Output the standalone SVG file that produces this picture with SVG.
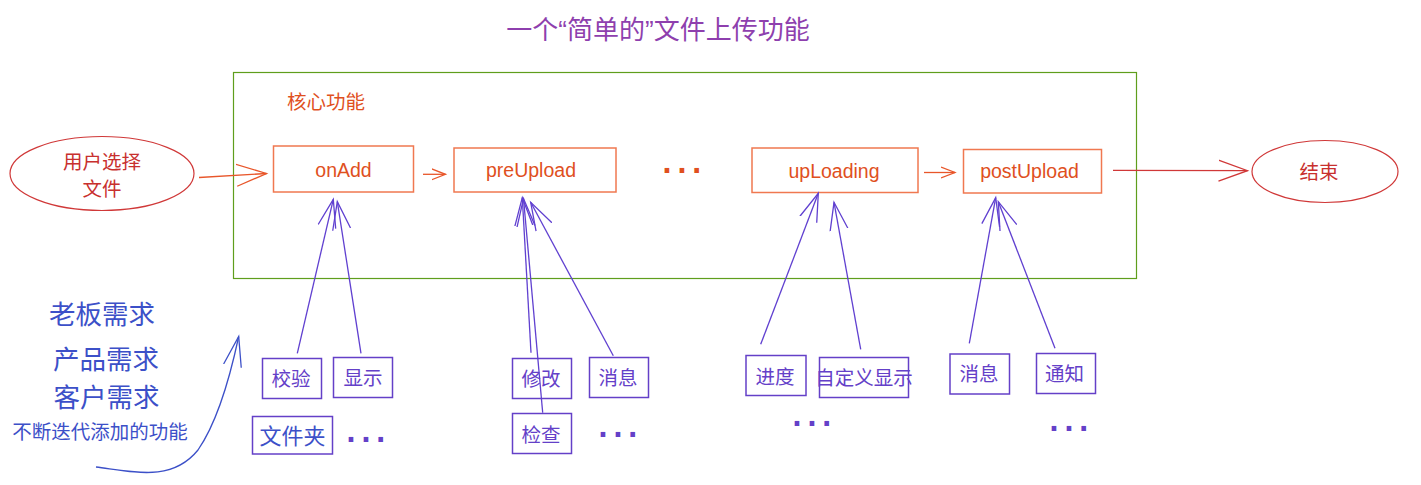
<svg xmlns="http://www.w3.org/2000/svg" width="1421" height="485" viewBox="0 0 1421 485">
<style>
text{font-family:"Liberation Sans","Noto Sans CJK SC",sans-serif;text-anchor:middle}
.cn{font-family:"Noto Sans CJK SC",sans-serif}
.or{fill:#e0501e}
.pu{fill:#6440c8}
.bl{fill:#3c50c8}
.obox{fill:none;stroke:#f07850;stroke-width:1.5}
.pbox{fill:none;stroke:#6440c8;stroke-width:1.5}
.pl{fill:none;stroke:#6040d0;stroke-width:1.3}
.ol{fill:none;stroke:#e8562a;stroke-width:1.3}
.dots{font-family:"DejaVu Sans",sans-serif;font-weight:bold;font-size:26px;letter-spacing:5px;text-anchor:start}
</style>
<defs>
<marker id="hp" markerUnits="userSpaceOnUse" markerWidth="40" markerHeight="30" refX="28" refY="10" orient="auto" viewBox="0 0 40 20"><path d="M0,1 L28,10 L0,19" fill="none" stroke="#6040d0" stroke-width="1.3"/></marker>
<marker id="ho" markerUnits="userSpaceOnUse" markerWidth="16" markerHeight="14" refX="14" refY="6" orient="auto" viewBox="0 0 16 12"><path d="M0,0.5 L14,6 L0,11.5" fill="none" stroke="#e8562a" stroke-width="1.3"/></marker>
<marker id="hb" markerUnits="userSpaceOnUse" markerWidth="34" markerHeight="26" refX="30" refY="11" orient="auto" viewBox="0 0 34 22"><path d="M0,0 L30,11 L0,22" fill="none" stroke="#e8562a" stroke-width="1.3"/></marker>
<marker id="hr" markerUnits="userSpaceOnUse" markerWidth="34" markerHeight="26" refX="29" refY="11" orient="auto" viewBox="0 0 34 22"><path d="M0,0.5 L29,11 L0,21.5" fill="none" stroke="#d03838" stroke-width="1.3"/></marker>
<marker id="hbl" markerUnits="userSpaceOnUse" markerWidth="34" markerHeight="26" refX="30" refY="11" orient="auto" viewBox="0 0 34 22"><path d="M0,2 L30,11 L0,20" fill="none" stroke="#3c50c8" stroke-width="1.3"/></marker>
</defs>

<g id="title"><text x="658" y="39" font-size="26" fill="#8e3fae">一个“简单的”文件上传功能</text></g>

<g id="core"><rect x="233.5" y="72.5" width="903" height="206" fill="none" stroke="#5f9e1c" stroke-width="1.2"/>
<text class="cn or" x="326" y="108.5" font-size="19.5">核心功能</text></g>

<g id="start"><ellipse cx="102" cy="173.5" rx="92" ry="37" fill="none" stroke="#d03838" stroke-width="1.2"/>
<text class="cn" x="102" y="168.5" font-size="19.5" fill="#c8302e">用户选择</text>
<text class="cn" x="102" y="196" font-size="19.5" fill="#c8302e">文件</text></g>

<g id="end"><ellipse cx="1325" cy="171.5" rx="73" ry="31" fill="none" stroke="#d03838" stroke-width="1.2"/>
<text class="cn" x="1319" y="178.5" font-size="19.5" fill="#c8302e">结束</text></g>

<g id="onAdd"><rect class="obox" x="273.5" y="146" width="140" height="46"/><text class="or" x="343.5" y="177" font-size="19.5">onAdd</text></g>
<g id="preUpload"><rect class="obox" x="454" y="148" width="162" height="44" stroke="#f29a7a"/><text class="or" x="531" y="177" font-size="19.5">preUpload</text></g>
<g id="ellipsis1"><text class="dots or" x="662" y="173">...</text></g>
<g id="upLoading"><rect class="obox" x="752" y="148" width="166" height="44.5"/><text class="or" x="834" y="178" font-size="19.5">upLoading</text></g>
<g id="postUpload"><rect class="obox" x="963.5" y="149.5" width="138" height="43.5" stroke="#e0501e"/><text class="or" x="1029.5" y="177.5" font-size="19.5">postUpload</text></g>

<g id="reqs"><text class="cn bl" x="102" y="324" font-size="26.5">老板需求</text>
<text class="cn bl" x="106" y="369" font-size="26.5">产品需求</text>
<text class="cn bl" x="106.5" y="406.5" font-size="26.5">客户需求</text>
<text class="cn bl" x="100" y="438.5" font-size="19.5">不断迭代添加的功能</text></g>

<g id="jiaoyan"><rect class="pbox" x="262.5" y="358.5" width="59" height="40"/><text class="cn pu" x="291" y="385.5" font-size="19.5">校验</text></g>
<g id="xianshi"><rect class="pbox" x="333.5" y="357.5" width="59" height="40"/><text class="cn pu" x="363" y="385" font-size="19.5">显示</text></g>
<g id="wenjianjia"><rect class="pbox" x="252.5" y="416.5" width="80" height="37.5" stroke="#3c50c8"/><text class="cn bl" x="292.5" y="444" font-size="22">文件夹</text></g>
<g id="ellipsis2"><text class="dots pu" x="346" y="442">...</text></g>

<g id="xiugai"><rect class="pbox" x="512.5" y="358.5" width="59" height="40"/><text class="cn pu" x="541" y="386" font-size="19.5">修改</text></g>
<g id="xiaoxi1"><rect class="pbox" x="589.5" y="357.5" width="59" height="40"/><text class="cn pu" x="618" y="385" font-size="19.5">消息</text></g>
<g id="jiancha"><rect class="pbox" x="512.5" y="413.5" width="59" height="40"/><text class="cn pu" x="541" y="441.5" font-size="19.5">检查</text></g>
<g id="ellipsis3"><text class="dots pu" x="598" y="437">...</text></g>

<g id="jindu"><rect class="pbox" x="746" y="355.5" width="60" height="40"/><text class="cn pu" x="775" y="383.5" font-size="19.5">进度</text></g>
<g id="zidingyi"><rect class="pbox" x="819.5" y="357.5" width="89" height="40"/><text class="cn pu" x="864" y="384.5" font-size="19.5">自定义显示</text></g>
<g id="ellipsis4"><text class="dots pu" x="792" y="426">...</text></g>

<g id="xiaoxi2"><rect class="pbox" x="950" y="354" width="59.5" height="40" stroke="#a890dc"/><text class="cn pu" x="979" y="380.5" font-size="19.5">消息</text></g>
<g id="tongzhi"><rect class="pbox" x="1036.5" y="353.5" width="59" height="40"/><text class="cn pu" x="1064.5" y="380.5" font-size="19.5">通知</text></g>
<g id="ellipsis5"><text class="dots pu" x="1049" y="431">...</text></g>

<g id="connectors">
<path class="ol" d="M199,177.5 L266.5,173.5" marker-end="url(#hb)"/>
<path class="ol" d="M423,174.3 L445.5,174.3" marker-end="url(#ho)"/>
<path class="ol" d="M924,172.5 L955,172.5" marker-end="url(#ho)"/>
<path d="M1113,170.3 L1247.5,170.7" fill="none" stroke="#d03838" stroke-width="1.3" marker-end="url(#hr)"/>
<path class="pl" d="M297.3,353.3 L333.3,199.3" marker-end="url(#hp)"/>
<path class="pl" d="M361,353.3 L337.3,201.7" marker-end="url(#hp)"/>
<path class="pl" d="M531,352.7 L522.3,197.7" marker-end="url(#hp)"/>
<path class="pl" d="M542.7,412.7 L523.5,198.5" marker-end="url(#hp)"/>
<path class="pl" d="M613.3,355.7 L530.7,202.3" marker-end="url(#hp)"/>
<path class="pl" d="M760.7,344.3 L818.3,193.3" marker-end="url(#hp)"/>
<path class="pl" d="M860.7,349.3 L834,202.3" marker-end="url(#hp)"/>
<path class="pl" d="M969.3,343.3 L995.7,197.7" marker-end="url(#hp)"/>
<path class="pl" d="M1055,348.3 L998.3,201.7" marker-end="url(#hp)"/>
<path d="M96,467 C135,472 172,482 198,450 C216,424 229,382 238.7,336.5" fill="none" stroke="#3c50c8" stroke-width="1.3" marker-end="url(#hbl)"/>
</g>
</svg>
